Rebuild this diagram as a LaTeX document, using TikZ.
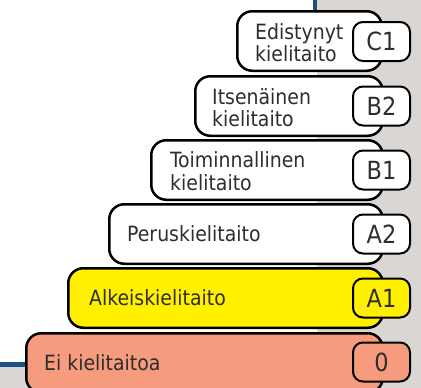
\documentclass[tikz,border=0pt]{standalone}
\usepackage{fontspec}
\setmainfont{DejaVu Sans Condensed}
\definecolor{bggrey}{HTML}{DAD6D3}
\definecolor{edgeblue}{HTML}{1B5080}
\definecolor{lvlyellow}{HTML}{FFF000}
\definecolor{lvlsalmon}{HTML}{F69B7D}
\definecolor{txtgrey}{HTML}{2E2E2E}
\begin{document}
\begin{tikzpicture}[x=1pt,y=-1pt,
  lvlbox/.style={draw=black, line width=2.5pt, rounded corners=15pt,
    minimum width=144.5pt, minimum height=59.5pt, anchor=north west,
    inner sep=0pt, outer sep=0pt, fill=white},
  lvltag/.style={draw=black, line width=2pt, rounded corners=10pt,
    minimum width=57pt, minimum height=39pt, inner sep=0pt, fill=white,
    text=txtgrey, font=\fontsize{25}{30}\selectfont},
  lvltext/.style={anchor=west, inner sep=0pt, align=left, text=txtgrey,
    font=\fontsize{21}{22.5}\selectfont}]
\useasboundingbox (0,0) rectangle (421,388);
% background panel
\fill[bggrey] (317,0) rectangle (421,388);
\fill[bggrey] (0,367) rectangle (421,388);
\fill[edgeblue] (313,0) rectangle (317,12);
\fill[edgeblue] (0,362) rectangle (27,367);
% level boxes
\node[lvlbox] (c1) at (237.25,11.25) {};
\node[lvlbox, minimum width=187.5pt] (b2) at (195.25,76.25) {};
\node[lvlbox, minimum width=231.5pt] (b1) at (151.25,140.25) {};
\node[lvlbox, minimum width=273.5pt] (a2) at (109.25,204.25) {};
\node[lvlbox, minimum width=314.5pt, fill=lvlyellow] (a1) at (68.25,268.25) {};
\node[lvlbox, minimum width=356.5pt, fill=lvlsalmon] (ei) at (26.25,333.25) {};
% texts
\node[lvltext] (tc1) at (255,42.5) {Edistynyt\\kielitaito};
\node[lvltext] (tb2) at (212,107.5) {Itsenäinen\\kielitaito};
\node[lvltext] (tb1) at (170,171) {Toiminnallinen\\kielitaito};
\node[lvltext] (ta2) at (127,234) {Peruskielitaito};
\node[lvltext] (ta1) at (89,298) {Alkeiskielitaito};
\node[lvltext] (tei) at (44,363) {Ei kielitaitoa};
% tags
\node[lvltag] (lc1) at (381.5,41.5) {C1};
\node[lvltag] (lb2) at (381.5,106) {B2};
\node[lvltag] (lb1) at (381.5,170) {B1};
\node[lvltag] (la2) at (381.5,234) {A2};
\node[lvltag, fill=lvlyellow] (la1) at (381.5,298) {A1};
\node[lvltag, fill=lvlsalmon] (lei) at (381.5,362) {0};
\end{tikzpicture}
\end{document}
